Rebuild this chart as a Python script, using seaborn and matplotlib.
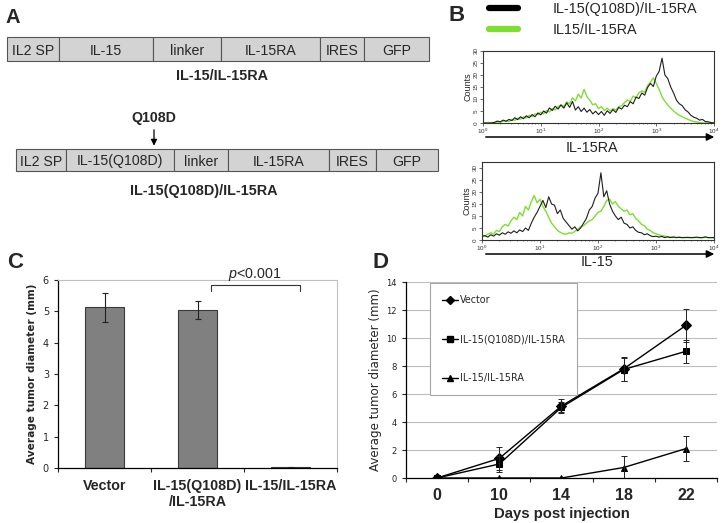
import numpy as np
import pandas as pd
import matplotlib
matplotlib.use("Agg")
import matplotlib.pyplot as plt
from matplotlib.lines import Line2D
import seaborn as sns

W, H = 724, 523
GREEN = "#7ddf2f"

# panel A: construct maps (segment name, relative length)
wt_parts = ["IL2 SP", "IL-15", "linker", "IL-15RA", "IRES", "GFP"]
wt_sizes = [52, 94, 68, 99, 44, 65]
mut_parts = ["IL2 SP", "IL-15(Q108D)", "linker", "IL-15RA", "IRES", "GFP"]
mut_sizes = [50, 108, 54, 101, 47, 62]

# panel B: flow histograms, counts per log10 channel (0 .. 4, step 0.05)
hist_bins_log = np.linspace(0, 4, 81)
ra_mut = [0, 0, 0, 0, 0.3, 0.8, 0.5, 1.2, 0.7, 1.5,
          1.0, 2.2, 1.4, 2.6, 1.8, 3.0, 2.2, 3.5, 2.6, 4.2,
          3.4, 5.0, 4.1, 6.3, 5.2, 7.0, 5.8, 7.5, 6.2, 8.4,
          6.5, 9.0, 5.4, 6.8, 4.8, 6.2, 4.5, 5.6, 3.8, 4.9,
          3.5, 4.8, 3.2, 5.1, 4.0, 5.6, 4.4, 6.5, 5.8, 7.4,
          6.8, 8.9, 8.0, 10.8, 10.2, 12.5, 11.6, 14.8, 16.5, 15.2,
          19.5, 21.5, 27.0, 20.0, 18.5, 15.0, 12.5, 9.5, 8.0, 7.2,
          5.5, 4.6, 3.2, 2.4, 2.0, 1.2, 1.5, 0.6, 0.5, 0.2, 0]
ra_wt = [0, 0, 0, 0.2, 0, 0.5, 0.3, 0.8, 1.0, 0.6,
         1.5, 1.1, 2.0, 1.6, 2.5, 2.1, 3.2, 2.7, 3.8, 3.4,
         4.5, 3.8, 5.2, 4.6, 6.0, 5.4, 6.8, 7.6, 6.9, 8.8,
         8.0, 10.5, 9.2, 12.0, 10.4, 14.0, 11.0, 9.5, 7.6, 8.0,
         6.0, 6.8, 5.2, 6.2, 5.0, 6.0, 5.4, 6.8, 7.2, 8.5,
         9.6, 9.0, 11.2, 10.5, 12.6, 13.4, 12.8, 15.6, 17.0, 18.8,
         16.5, 14.0, 11.0, 9.0, 7.5, 6.2, 5.0, 4.0, 3.2, 2.6,
         2.0, 1.5, 1.0, 0.6, 0.4, 0.2, 0, 0, 0, 0, 0]
il15_mut = [1.5, 1.8, 1.2, 2.2, 1.6, 2.6, 2.0, 3.0, 2.4, 3.4,
            2.8, 3.8, 3.0, 4.2, 3.5, 5.0, 4.0, 7.0, 9.5, 11.5,
            14.0, 16.5, 13.5, 18.0, 15.0, 14.5, 11.0, 12.5, 9.0, 7.5,
            6.0, 4.5, 5.5, 3.8, 5.0, 7.0, 9.0, 12.5, 14.0, 17.5,
            19.5, 28.0, 18.0, 20.5, 15.0, 12.0, 10.0, 8.5, 9.5, 7.0,
            6.5, 5.0, 5.5, 4.0, 3.2, 3.0, 2.2, 2.6, 1.8, 1.4,
            1.6, 1.2, 1.5, 1.0, 1.3, 1.0, 1.2, 1.0, 1.1, 1.0,
            1.0, 1.1, 1.0, 1.0, 1.2, 1.0, 1.0, 1.3, 1.0, 1.0, 1.0]
il15_wt = [2.0, 1.6, 2.4, 3.0, 2.5, 4.0, 3.5, 5.5, 6.5, 5.8,
           8.0, 9.5, 8.5, 11.5, 10.0, 14.0, 12.5, 16.0, 18.5, 15.5,
           17.0, 14.0, 12.0, 9.5, 7.0, 5.5, 4.0, 3.2, 2.6, 2.4,
           3.0, 2.8, 3.6, 4.5, 5.5, 6.0, 7.0, 8.0, 8.5, 10.0,
           11.5, 12.0, 14.0, 16.5, 17.0, 15.0, 16.0, 14.0, 13.0, 12.0,
           12.5, 10.5, 11.0, 9.0, 8.0, 6.5, 6.0, 4.5, 4.0, 3.0,
           2.6, 2.2, 1.8, 1.6, 1.4, 1.2, 1.3, 1.1, 1.2, 1.0,
           1.1, 1.0, 1.0, 1.1, 1.0, 1.0, 1.0, 1.1, 1.0, 1.0, 1.0]

# panel C
c_groups = ["Vector", "IL-15(Q108D)\n/IL-15RA", "IL-15/IL-15RA"]
c_means = [5.13, 5.05, 0.02]
c_err = [0.47, 0.28, 0.01]

# panel D
days = [0, 10, 14, 18, 22]
d_groups = ["Vector", "IL-15(Q108D)/IL-15RA", "IL-15/IL-15RA"]
d_vector = [0, 1.4, 5.15, 7.8, 10.9]
d_vector_err = [0, 0.8, 0.5, 0.85, 1.2]
d_q108d = [0, 1.0, 5.05, 7.75, 9.05]
d_q108d_err = [0, 0.6, 0.35, 0.8, 0.8]
d_il15 = [0, 0, 0, 0.75, 2.1]
d_il15_err = [0, 0, 0, 0.8, 0.9]
d_markers = ["D", "s", "^"]

sns.set_style("ticks")
plt.rcParams["font.family"] = ["Liberation Sans", "DejaVu Sans"]
plt.rcParams["mathtext.fontset"] = "custom"
plt.rcParams["mathtext.rm"] = "Liberation Sans"
plt.rcParams["mathtext.it"] = "Liberation Sans:italic"

fig = plt.figure(figsize=(W / 100, H / 100), dpi=100)


def px_axes(x0, y0, x1, y1):
    return fig.add_axes([x0 / W, 1 - y1 / H, (x1 - x0) / W, (y1 - y0) / H])


# overlay in pixel coordinates for schematic and free text
ov = px_axes(0, 0, W, H)
ov.set_xlim(0, W)
ov.set_ylim(H, 0)
ov.axis("off")


def draw_construct(parts, sizes, x0, yc, h):
    lefts = x0 + np.concatenate([[0], np.cumsum(sizes)[:-1]])
    ov.barh([yc] * len(sizes), sizes, left=lefts, height=h,
            color="#d3d3d3", edgecolor="#555555", linewidth=0.8)
    for left, size, name in zip(lefts, sizes, parts):
        ov.text(left + size / 2, yc + 0.5, name, ha="center",
                va="center_baseline", fontsize=10.2)


draw_construct(wt_parts, wt_sizes, 7, 48.7, 24)
ov.text(222, 76, "IL-15/IL-15RA", ha="center", va="center",
        fontsize=10.4, weight="bold")
draw_construct(mut_parts, mut_sizes, 16, 159.5, 22)
ov.text(204, 191, "IL-15(Q108D)/IL-15RA", ha="center", va="center",
        fontsize=10.4, weight="bold")
ov.text(154, 118, "Q108D", ha="center", va="center", fontsize=10.2,
        weight="bold")
ov.annotate("", xy=(154, 148.5), xytext=(154, 127),
            arrowprops=dict(arrowstyle="-|>", color="black", lw=0.9,
                            mutation_scale=9))

# panel letters
ov.text(5, 23, "A", fontsize=14.5, weight="bold")
ov.text(449, 21, "B", fontsize=16, weight="bold")
ov.text(7, 268, "C", fontsize=16, weight="bold")
ov.text(372, 268, "D", fontsize=16, weight="bold")


def draw_hist(box, mut, wt, ymax, label, arrow_y, label_xy):
    ax = px_axes(*box)
    xs = 10 ** hist_bins_log
    sns.lineplot(x=xs, y=wt, color=GREEN, lw=1.0, ax=ax)
    sns.lineplot(x=xs, y=mut, color="#1e1e1e", lw=0.8, ax=ax)
    ax.set_xscale("log")
    ax.set_xlim(1, 1e4)
    ax.set_ylim(0, ymax)
    ax.set_xticks([1, 10, 100, 1000, 10000])
    ax.set_xticklabels([r"$10^{%d}$" % k for k in range(5)])
    ax.set_yticks(range(0, 31, 5))
    for lab in ax.get_yticklabels():
        lab.set_rotation(90)
        lab.set_va("center")
    ax.tick_params(labelsize=4.5, length=2, width=0.5, pad=1,
                   colors="#333333")
    ax.tick_params(which="minor", length=1, width=0.4)
    ax.set_ylabel("Counts", fontsize=6.5, labelpad=1)
    for sp in ax.spines.values():
        sp.set_linewidth(0.8)
        sp.set_color("#333333")
    ov.annotate("", xy=(717, arrow_y), xytext=(483, arrow_y),
                arrowprops=dict(arrowstyle="-|>", color="black", lw=1.1,
                                mutation_scale=11))
    ov.text(label_xy[0], label_xy[1], label, ha="center", va="center",
            fontsize=10.4)
    return ax


ax_ra = draw_hist((483, 51, 714, 123), ra_mut, ra_wt, 30, "IL-15RA", 137,
                  (592, 148))
draw_hist((482, 162, 714, 240), il15_mut, il15_wt, 32.5, "IL-15", 254,
          (597, 262))

leg_handles = [Line2D([], [], color="black", lw=4.5),
               Line2D([], [], color=GREEN, lw=4.5)]
ax_ra.legend(leg_handles, ["IL-15(Q108D)/IL-15RA", "IL15/IL-15RA"],
             loc="upper left", bbox_to_anchor=(489, 2),
             bbox_transform=ov.transData, frameon=False, fontsize=10.4,
             handlelength=2.0, handletextpad=2.4, labelspacing=0.5,
             borderpad=0, borderaxespad=0)

# panel C
axc = px_axes(58, 280, 337, 468)
cdf = pd.DataFrame({"group": c_groups, "mean": c_means})
sns.barplot(data=cdf, x="group", y="mean", color="#808080", saturation=1,
            edgecolor="#3a3a3a", linewidth=0.8, width=0.41, errorbar=None,
            ax=axc)
axc.errorbar(range(len(c_means)), c_means, yerr=c_err, fmt="none",
             ecolor="#222222", elinewidth=0.8, capsize=2, capthick=0.8)
axc.set_xlim(-0.5, 2.5)
axc.set_ylim(0, 6)
axc.set_xlabel("")
axc.set_ylabel("Average tumor diameter (mm)", fontsize=7.6, weight="bold",
               family="DejaVu Sans", labelpad=4)
axc.set_xticks([-0.5, 0.5, 1.5, 2.5], minor=True)
axc.tick_params(axis="x", which="major", length=0, pad=8)
axc.tick_params(axis="x", which="minor", length=3, width=0.8,
                direction="out")
axc.tick_params(axis="y", length=3, width=0.8, direction="out",
                labelsize=7)
for lab in axc.get_xticklabels():
    lab.set_fontweight("bold")
    lab.set_fontsize(10.3)
for lab in axc.get_yticklabels():
    lab.set_family("DejaVu Sans")
for side in ["top", "right"]:
    axc.spines[side].set_color("#c0c0c0")
    axc.spines[side].set_linewidth(0.8)
for side in ["left", "bottom"]:
    axc.spines[side].set_color("black")
    axc.spines[side].set_linewidth(0.9)
axc.plot([1.14, 1.14, 2.1, 2.1], [5.65, 5.84, 5.84, 5.65], color="#333333",
         lw=0.8, clip_on=False)
axc.text(1.62, 6.18, r"$\it{p}$<0.001", ha="center", va="center",
         fontsize=10.3)

# panel D
axd = px_axes(406, 282, 717, 478)
series = [d_vector, d_q108d, d_il15]
errs = [d_vector_err, d_q108d_err, d_il15_err]
ddf = pd.DataFrame({
    "pos": list(range(len(days))) * len(series),
    "value": sum(series, []),
    "group": np.repeat(d_groups, len(days)),
})
sns.lineplot(data=ddf, x="pos", y="value", style="group",
             markers=dict(zip(d_groups, d_markers)), dashes=False,
             color="black", lw=1.0, markersize=5, markeredgecolor="black",
             legend=False, ax=axd)
for vals, err in zip(series, errs):
    axd.errorbar(range(len(days)), vals, yerr=err, fmt="none",
                 ecolor="#222222", elinewidth=0.7, capsize=2, capthick=0.7)
axd.set_xlim(-0.5, 4.5)
axd.set_ylim(0, 14)
axd.set_yticks(range(0, 15, 2))
axd.set_xticks(range(len(days)))
axd.set_xticklabels(days)
axd.set_xticks(np.arange(-0.5, 4.6, 1), minor=True)
axd.yaxis.grid(True, color="#bdbdbd", lw=0.8)
axd.set_axisbelow(True)
axd.tick_params(axis="x", which="major", length=0, pad=7, labelsize=11.5)
axd.tick_params(axis="x", which="minor", length=3, width=0.8,
                direction="out")
axd.tick_params(axis="y", length=3, width=0.8, labelsize=6)
for lab in axd.get_xticklabels():
    lab.set_fontweight("bold")
for lab in axd.get_yticklabels():
    lab.set_family("DejaVu Sans")
sns.despine(ax=axd)
for side in ["left", "bottom"]:
    axd.spines[side].set_linewidth(0.9)
    axd.spines[side].set_color("black")
axd.set_xlabel("Days post injection", fontsize=10.7, weight="bold",
               labelpad=3)
axd.set_ylabel("Average tumor diameter (mm)", fontsize=8.6,
               family="DejaVu Sans", labelpad=3)
d_handles = [Line2D([], [], color="black", lw=1.0, marker=m, markersize=4.5)
             for m in d_markers]
leg = axd.legend(d_handles, d_groups, loc="upper left",
                 bbox_to_anchor=(430, 283), bbox_transform=ov.transData,
                 prop={"family": "DejaVu Sans", "size": 6.9},
                 handlelength=1.6, handletextpad=0.2, labelspacing=3.0,
                 borderpad=1.3, borderaxespad=0, fancybox=False,
                 framealpha=1, edgecolor="#a6a6a6")
leg.get_frame().set_linewidth(0.8)

fig.savefig("out.png", dpi=100)
